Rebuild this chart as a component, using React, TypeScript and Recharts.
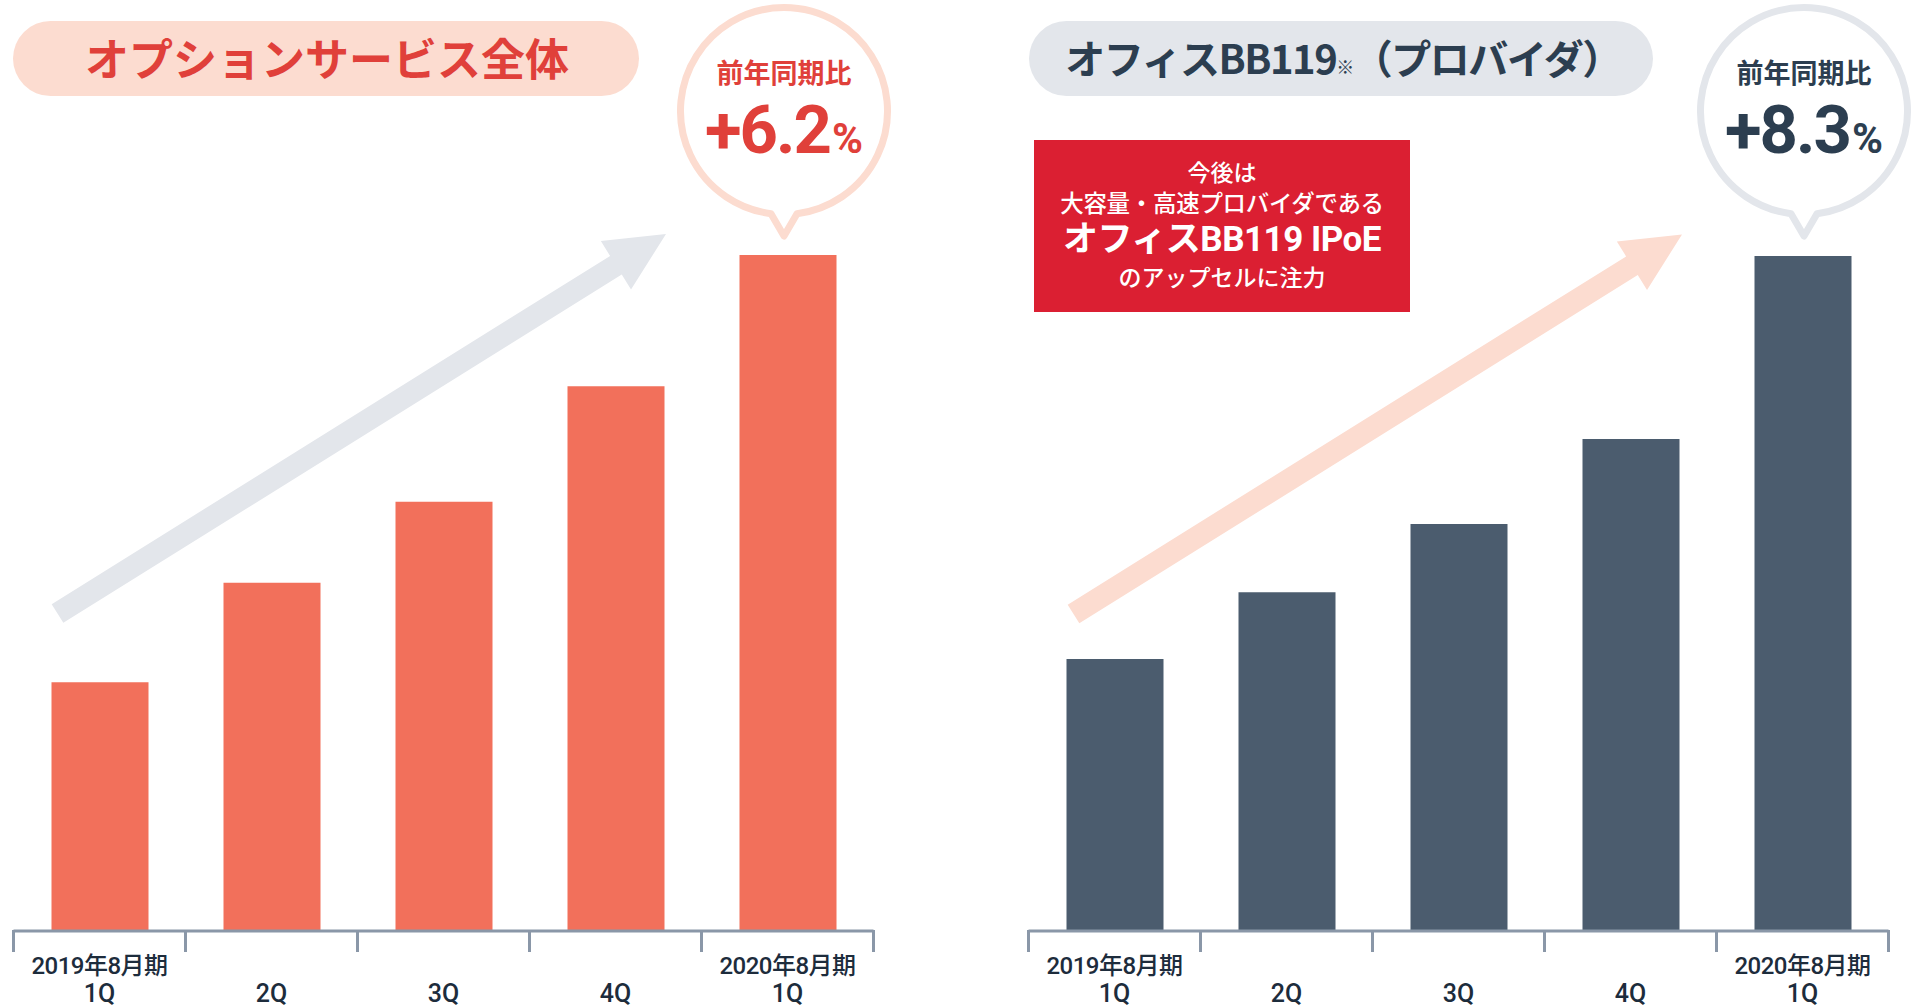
import React from 'react';
import { BarChart, Bar, XAxis, YAxis } from 'recharts';

// quarters on the x axis (period + quarter, split on the space)
const quarters = ['2019年8月期 1Q', '2Q', '3Q', '4Q', '2020年8月期 1Q'];
// no scale printed: index with the latest quarter = 100
const optionServiceValues = [36.8, 51.5, 63.5, 80.6, 100];
const officeBBValues = [40.3, 50.2, 60.3, 72.9, 100];

const optionTitle = 'オプションサービス全体';
const officeTitle = 'オフィスBB119';
const officeTitleRest = '（プロバイダ）';
const yoyLabel = '前年同期比';
const optionYoY = '+6.2';
const officeYoY = '+8.3';
const noteLines = ['今後は', '大容量・高速プロバイダである', 'オフィスBB119 IPoE', 'のアップセルに注力'];

const AXIS = '#8a97a8';
const LABEL = '#1d2c3c';
const CORAL = '#f2705b';
const SLATE = '#4b5c6e';
const PEACH = '#fcdcd0';
const GREY = '#e3e6eb';
const RED = '#e0403a';
const NAVY = '#2c3e50';
const JP = '"Noto Sans CJK JP", "Noto Sans", sans-serif';
const NUM = 'Roboto, "Noto Sans CJK JP", sans-serif';

const BAND = 172;

function QuarterTick(props: any) {
  const { x, y, payload } = props;
  const parts = String(payload.value).split(' ');
  const period = parts.length > 1 ? parts[0] : '';
  const q = parts[parts.length - 1];
  const isLast = payload.value === quarters[quarters.length - 1];
  const half = BAND / 2;
  return (
    <g>
      <line x1={x - half} x2={x - half} y1={y - 1} y2={y + 21} stroke={AXIS} strokeWidth={3} />
      {isLast && <line x1={x + half} x2={x + half} y1={y - 1} y2={y + 21} stroke={AXIS} strokeWidth={3} />}
      {period && (
        <text x={x} y={y + 43} textAnchor="middle" fontFamily={NUM} fontWeight={500} fontSize={24} letterSpacing={-0.5} fill={LABEL}>
          {period}
        </text>
      )}
      <text x={x} y={y + 71} textAnchor="middle" fontFamily={NUM} fontWeight={500} fontSize={25} fill={LABEL}>
        {q}
      </text>
    </g>
  );
}

type ChartProps = {
  values: number[];
  color: string;
  left: number;
  width: number;
  marginLeft: number;
  marginRight: number;
  top: number;
};

function QuarterChart({ values, color, left, width, marginLeft, marginRight, top }: ChartProps) {
  const data = quarters.map((q, i) => ({ quarter: q, value: values[i] }));
  return (
    <div style={{ position: 'absolute', left, top: 0 }}>
      <BarChart width={width} height={1007} data={data} margin={{ top, right: marginRight, left: marginLeft, bottom: 0 }}>
        <XAxis
          dataKey="quarter"
          height={76}
          interval={0}
          axisLine={{ stroke: AXIS, strokeWidth: 3 }}
          tickLine={false}
          tickSize={0}
          tickMargin={0}
          tick={<QuarterTick />}
        />
        <YAxis hide domain={[0, 100]} />
        <Bar dataKey="value" fill={color} barSize={97} isAnimationActive={false} />
      </BarChart>
    </div>
  );
}

function arrowPath(tx: number, ty: number, px: number, py: number) {
  const shaft = 11, headLen = 59, headHalf = 28.5;
  const dx = px - tx, dy = py - ty;
  const len = Math.hypot(dx, dy);
  const ux = dx / len, uy = dy / len;
  const nx = -uy, ny = ux;
  const bx = px - ux * headLen, by = py - uy * headLen;
  const pts = [
    [tx + nx * shaft, ty + ny * shaft],
    [bx + nx * shaft, by + ny * shaft],
    [bx + nx * headHalf, by + ny * headHalf],
    [px, py],
    [bx - nx * headHalf, by - ny * headHalf],
    [bx - nx * shaft, by - ny * shaft],
    [tx - nx * shaft, ty - ny * shaft]
  ];
  return pts.map((p) => p.join(',')).join(' ');
}

function bubblePath(cx: number, cy: number) {
  const r = 103.5, half = 13;
  const by = cy + Math.sqrt(r * r - half * half);
  return `M ${cx - half} ${by} A ${r} ${r} 0 1 1 ${cx + half} ${by} L ${cx} ${cy + 125} Z`;
}

function Bubble({ cx, stroke, color, value }: { cx: number; stroke: string; color: string; value: string }) {
  return (
    <g>
      <path d={bubblePath(cx, 111)} fill="#fff" stroke={stroke} strokeWidth={7} strokeLinejoin="round" />
      <text x={cx} y={83} textAnchor="middle" fontFamily={JP} fontWeight={700} fontSize={27} fill={color}>
        {yoyLabel}
      </text>
      <text x={cx} y={153} textAnchor="middle" fontFamily={NUM} fontWeight={700} fill={color}>
        <tspan fontSize={67} letterSpacing={-2}>{value}</tspan>
        <tspan fontSize={42} dx={2}>%</tspan>
      </text>
    </g>
  );
}

export default function App() {
  return (
    <div style={{ position: 'absolute', left: 0, top: 0, width: 1914, height: 1007, background: '#fff', overflow: 'hidden' }}>
      <svg width={1914} height={1007} style={{ position: 'absolute', left: 0, top: 0 }}>
        {/* title pills */}
        <rect x={13} y={21} width={626} height={75} rx={37.5} fill={PEACH} />
        <text x={327} y={76} textAnchor="middle" fontFamily={JP} fontWeight={700} fontSize={44} fill={RED}>
          {optionTitle}
        </text>
        <rect x={1029} y={21} width={624} height={75} rx={37.5} fill={GREY} />
        <text x={1343} y={74} textAnchor="middle" fontFamily={JP} fontWeight={700} fontSize={40} letterSpacing={-1.5} fill={NAVY}>
          {officeTitle}
          <tspan fontSize={18}>※</tspan>
          {officeTitleRest}
        </text>

        {/* trend arrows */}
        <polygon points={arrowPath(57.5, 613.5, 666, 234)} fill={GREY} />
        <polygon points={arrowPath(1073.5, 614, 1682, 234.5)} fill={PEACH} />

        {/* year-on-year bubbles */}
        <Bubble cx={784} stroke={PEACH} color={RED} value={optionYoY} />
        <Bubble cx={1804} stroke={GREY} color={NAVY} value={officeYoY} />

        {/* note box */}
        <rect x={1034} y={140} width={376} height={172} fill="#db1f32" />
        <text x={1222} y={181} textAnchor="middle" fontFamily={JP} fontWeight={500} fontSize={23} fill="#fff">{noteLines[0]}</text>
        <text x={1222} y={212} textAnchor="middle" fontFamily={JP} fontWeight={500} fontSize={23.5} letterSpacing={-0.3} fill="#fff">{noteLines[1]}</text>
        <text x={1222} y={251} textAnchor="middle" fontFamily={NUM} fontWeight={700} fontSize={35} letterSpacing={-0.5} fill="#fff">{noteLines[2]}</text>
        <text x={1222} y={286} textAnchor="middle" fontFamily={JP} fontWeight={500} fontSize={23} fill="#fff">{noteLines[3]}</text>
      </svg>

      <QuarterChart values={optionServiceValues} color={CORAL} left={0} width={900} marginLeft={13.5} marginRight={26.5} top={255} />
      <QuarterChart values={officeBBValues} color={SLATE} left={1000} width={914} marginLeft={28.5} marginRight={25.5} top={256} />
    </div>
  );
}
